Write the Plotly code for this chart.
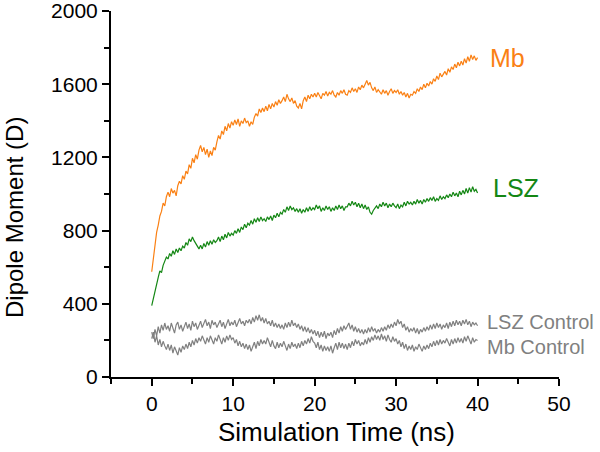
import plotly.graph_objects as go

# time grid (ns), sampled every 0.2 ns from 0 to 40
time_ns = [round(i * 0.2, 1) for i in range(201)]

mb = [
    575, 650, 720, 790, 830, 880, 905, 950, 935, 985,
    1010, 985, 1030, 1005, 1020, 990, 1045, 1070, 1055, 1100,
    1080, 1125, 1110, 1160, 1140, 1195, 1170, 1215, 1190, 1240,
    1265, 1230, 1255, 1215, 1245, 1200, 1235, 1210, 1255, 1240,
    1285, 1320, 1300, 1345, 1325, 1370, 1345, 1385, 1360, 1395,
    1375, 1405, 1380, 1410, 1370, 1400, 1385, 1415, 1390, 1400,
    1370, 1395, 1380, 1420, 1440, 1425, 1465, 1445, 1470, 1450,
    1480, 1455, 1490, 1465, 1495, 1475, 1505, 1485, 1515, 1495,
    1510, 1530, 1505, 1545, 1520, 1505, 1525, 1495, 1510, 1480,
    1470, 1495, 1465, 1510, 1530, 1505, 1540, 1520, 1545, 1530,
    1550, 1530, 1555, 1535, 1520, 1550, 1540, 1560, 1535, 1555,
    1545, 1565, 1540, 1530, 1555, 1540, 1565, 1550, 1570, 1545,
    1540, 1565, 1555, 1580, 1560, 1575, 1555, 1585, 1570, 1595,
    1580, 1600, 1620, 1595, 1610, 1580, 1565, 1585, 1555, 1570,
    1560, 1545, 1570, 1550, 1565, 1540, 1560, 1575, 1550, 1565,
    1555, 1570, 1545, 1560, 1540, 1555, 1530, 1550, 1525, 1545,
    1540, 1560, 1550, 1575, 1560, 1585, 1570, 1600, 1580, 1605,
    1590, 1615, 1600, 1630, 1615, 1645, 1625, 1660, 1640, 1655,
    1670, 1650, 1685, 1665, 1695, 1680, 1710, 1690, 1720, 1700,
    1725, 1705, 1740, 1715, 1750, 1725, 1760, 1735, 1755, 1730,
    1745,
]

lsz = [
    390, 430, 480, 520, 545, 580, 570, 610, 635, 655,
    645, 675, 660, 690, 670, 700, 680, 705, 690, 715,
    705, 735, 720, 755, 740, 765, 745, 730, 715, 700,
    720, 700, 730, 710, 740, 720, 745, 725, 750, 735,
    745, 765, 740, 770, 750, 780, 760, 790, 770, 785,
    775, 800, 785, 810, 790, 820, 805, 835, 815, 840,
    830, 855, 835, 865, 845, 870, 850, 875, 855, 865,
    850, 875, 860, 880, 855, 885, 870, 895, 875, 900,
    890, 915, 900, 930, 910, 935, 915, 925, 905, 920,
    900, 920, 895, 915, 900, 925, 905, 930, 910, 925,
    915, 940, 920, 935, 905, 925, 910, 935, 915, 930,
    905, 925, 910, 935, 915, 940, 920, 935, 910, 930,
    930, 950, 935, 960, 940, 955, 930, 950, 925, 945,
    920, 940, 915, 930, 900, 890, 910, 925, 935, 920,
    945, 930, 955, 935, 950, 925, 945, 930, 950, 935,
    925, 945, 920, 940, 930, 955, 935, 960, 945, 955,
    940, 960, 945, 970, 950, 965, 945, 970, 955, 975,
    960, 980, 965, 985, 960, 975, 965, 990, 970, 985,
    975, 995, 980, 1000, 985, 1010, 990, 1005, 985, 1015,
    995, 1020, 1000, 1030, 1005, 1035, 1010, 1040, 1015, 1025,
    1005,
]

lsz_control = [
    245, 210, 260, 225, 275, 240, 285, 255, 295, 260,
    280, 250, 295, 265, 240, 285, 300, 260, 285, 250,
    275, 300, 265, 290, 255, 305, 275, 295, 260, 285,
    305, 270, 295, 315, 280, 300, 265, 310, 285, 300,
    270, 295, 310, 275, 300, 265, 290, 315, 280, 300,
    285, 310, 275, 300, 320, 290, 305, 280, 310, 295,
    315, 290, 325, 300, 335, 310, 340, 305, 325, 295,
    320, 290, 305, 280, 310, 275, 295, 270, 290, 265,
    285, 260, 295, 270, 300, 275, 310, 280, 295, 270,
    290, 260, 280, 250, 275, 245, 270, 240, 260, 235,
    255, 225, 250, 215, 245, 220, 250, 210, 240, 225,
    245, 215, 255, 230, 265, 240, 275, 250, 280, 260,
    275, 295, 260, 285, 250, 275, 245, 265, 240, 260,
    235, 260, 240, 270, 245, 275, 250, 265, 240, 260,
    245, 270, 250, 275, 255, 285, 265, 290, 270, 300,
    280, 315, 290, 305, 270, 290, 255, 275, 245, 265,
    250, 270, 240, 265, 235, 260, 245, 270, 250, 275,
    255, 285, 260, 290, 265, 295, 270, 290, 260, 285,
    270, 295, 265, 300, 275, 305, 280, 310, 285, 305,
    280, 310, 290, 315, 285, 305, 275, 300, 285, 295,
    280,
]

mb_control = [
    210, 245, 190, 225, 175, 205, 165, 195, 170, 150,
    180, 145, 175, 130, 165, 140, 120, 160, 135, 170,
    150, 180, 155, 190, 165, 200, 175, 210, 185, 215,
    195, 225, 200, 180, 215, 190, 225, 200, 180, 215,
    195, 230, 205, 180, 215, 190, 225, 200, 230, 205,
    215, 185, 205, 170, 195, 165, 185, 155, 180, 150,
    175, 140, 165, 190, 155, 195, 170, 205, 180, 200,
    180, 215, 190, 165, 200, 170, 155, 190, 160, 185,
    165, 195, 170, 145, 180, 155, 190, 165, 180, 155,
    185, 160, 195, 170, 200, 180, 210, 185, 220, 195,
    185, 160, 190, 150, 175, 140, 170, 145, 165, 140,
    170, 130, 160, 185, 150, 190, 160, 185, 155, 180,
    150, 185, 160, 195, 170, 205, 180, 200, 170, 190,
    175, 205, 180, 215, 190, 220, 200, 230, 205, 225,
    200, 235, 205, 225, 195, 230, 205, 190, 220, 195,
    210, 180, 200, 165, 190, 155, 180, 145, 170, 150,
    175, 140, 165, 150, 180, 155, 140, 170, 150, 175,
    155, 185, 165, 195, 170, 200, 175, 205, 180, 200,
    185, 210, 190, 170, 205, 180, 210, 185, 215, 190,
    210, 185, 220, 195, 225, 200, 180, 215, 190, 205,
    200,
]

ORANGE = "rgb(250,128,20)"
GREEN = "rgb(20,135,20)"
GRAY = "rgb(128,128,128)"

fig = go.Figure()
fig.add_trace(go.Scatter(x=time_ns, y=lsz_control, mode="lines", line=dict(color=GRAY, width=1.2)))
fig.add_trace(go.Scatter(x=time_ns, y=mb_control, mode="lines", line=dict(color=GRAY, width=1.2)))
fig.add_trace(go.Scatter(x=time_ns, y=lsz, mode="lines", line=dict(color=GREEN, width=1.2)))
fig.add_trace(go.Scatter(x=time_ns, y=mb, mode="lines", line=dict(color=ORANGE, width=1.2)))

font_family = "Liberation Sans, Arial, sans-serif"

labels = [
    ("Mb", 41.3, 1745, ORANGE, 25),
    ("LSZ", 41.6, 1035, GREEN, 25),
    ("LSZ Control", 40.9, 300, GRAY, 20),
    ("Mb Control", 40.9, 164, GRAY, 20),
]
for text, x, y, color, size in labels:
    fig.add_annotation(x=x, y=y, text=text, showarrow=False, xanchor="left", yanchor="middle",
                       font=dict(family=font_family, size=size, color=color))

fig.add_annotation(xref="paper", yref="paper", x=(336 - 111) / 448, y=-(432 - 377) / 366,
                   text="Simulation Time (ns)", showarrow=False, xanchor="center", yanchor="middle",
                   font=dict(family=font_family, size=26, color="black"))
fig.add_annotation(xref="paper", yref="paper", x=-(111 - 14) / 448, y=(377 - 218) / 366,
                   text="Dipole Moment (D)", showarrow=False, textangle=-90,
                   xanchor="center", yanchor="middle",
                   font=dict(family=font_family, size=24, color="black"))

axis_common = dict(showline=True, linecolor="black", linewidth=2, ticks="outside",
                   ticklen=7, tickwidth=2, tickcolor="black", showgrid=False, zeroline=False,
                   ticklabeloverflow="allow",
                   tickfont=dict(family=font_family, size=21, color="black"))

fig.update_xaxes(range=[-5, 50], dtick=10, tick0=0,
                 minor=dict(dtick=5, tick0=0, ticks="outside", ticklen=5, tickwidth=2, tickcolor="black", showgrid=False),
                 **axis_common)
fig.update_yaxes(range=[0, 2000], dtick=400, tick0=0,
                 minor=dict(dtick=200, tick0=0, ticks="outside", ticklen=5, tickwidth=2, tickcolor="black", showgrid=False),
                 **axis_common)

fig.update_layout(width=600, height=452, margin=dict(l=111, r=41, t=11, b=75, autoexpand=False),
                  plot_bgcolor="white", paper_bgcolor="white", showlegend=False)

fig.write_html("out.html", config={"displayModeBar": False},
               post_script="document.body.style.margin='0';")
